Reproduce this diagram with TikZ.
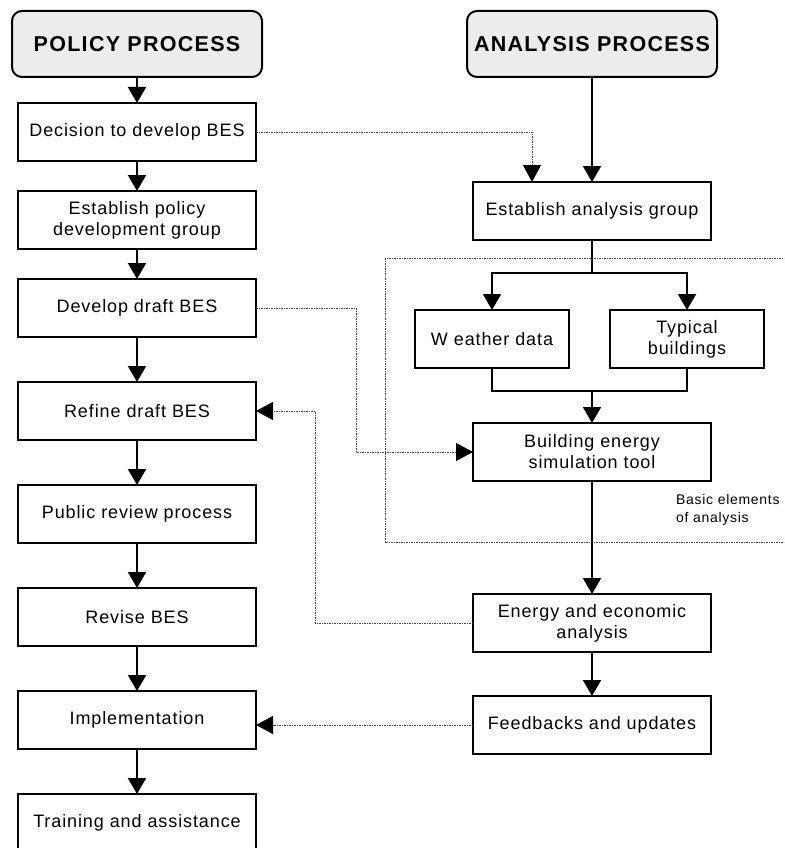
\documentclass[tikz,border=0pt]{standalone}
\usepackage{fontspec}
\setmainfont{Liberation Sans}
\usetikzlibrary{positioning,arrows.meta}

\begin{document}
\begin{tikzpicture}[x=1pt,y=1pt,node distance=30pt,
    box/.style={draw,line width=2pt,minimum width=238pt,minimum height=58pt,
        inner sep=2pt,outer sep=0pt,align=center,
        font=\fontsize{18}{21}\selectfont\addfontfeatures{LetterSpace=5}},
    head/.style={draw,line width=2pt,rounded corners=10pt,fill=gray!15,
        minimum width=250pt,minimum height=66pt,outer sep=0pt,
        font=\bfseries\fontsize{21.5}{25}\selectfont\addfontfeatures{LetterSpace=6}},
    note/.style={align=left,anchor=north west,inner sep=0pt,
        font=\fontsize{14}{18}\selectfont\addfontfeatures{LetterSpace=5}},
    arr/.style={line width=2pt,-{Triangle[width=18pt,length=16pt]}},
    dotline/.style={draw=black!75,line width=0.8pt,dash pattern=on 1.5pt off 1pt},
    dotarr/.style={dotline,-{Triangle[width=18pt,length=17pt,color=black]}}]
    \useasboundingbox (0,0) rectangle (784,-848);
    \clip (0,0) rectangle (784,-848);
    \node[head] (policy) at (137,-44) {POLICY PROCESS};
    \node[box] (decision) [below=26pt of policy] {Decision to develop BES};
    \node[box] (estP) [below=of decision] {Establish policy\\development group};
    \node[box] (draft) [below=of estP] {Develop draft BES};
    \node[box] (refine) [below=45pt of draft] {Refine draft BES};
    \node[box] (review) [below=45pt of refine] {Public review process};
    \node[box] (revise) [below=45pt of review] {Revise BES};
    \node[box] (impl) [below=45pt of revise] {Implementation};
    \node[box] (training) [below=45pt of impl] {Training and assistance};
    \node[head] (analysis) at (592,-44) {ANALYSIS PROCESS};
    \node[box] (estA) [below=105pt of analysis] {Establish analysis group};
    \node[box,minimum width=154pt] (weather) [below=70pt of estA, xshift=-100pt] {W eather data};
    \node[box,minimum width=154pt] (typical) [below=70pt of estA, xshift=95pt] {Typical\\buildings};
    \node[box] (building) [below=183pt of estA] {Building energy\\simulation tool};
    \node[box] (energy) [below=113pt of building] {Energy and economic\\analysis};
    \node[box] (feedback) [below=44pt of energy] {Feedbacks and updates};
    \node[note] (basic) at (676,-494) {Basic elements\\of analysis};
    \coordinate[below=33pt of estA] (split);
    \coordinate[above=32pt of building] (merge);
    \draw[dotline] (385,-258) rectangle (800,-542);
    \foreach \a/\b in {policy/decision,decision/estP,estP/draft,draft/refine,
        refine/review,review/revise,revise/impl,impl/training,
        analysis/estA,merge/building,building/energy,energy/feedback}
        \draw[arr] (\a) -- (\b);
    \draw[line width=2pt] (estA) -- (split);
    \draw[arr] (split) -| (weather);
    \draw[arr] (split) -| (typical);
    \draw[line width=2pt] (weather) |- (merge) -| (typical);
    \draw[dotarr] (decision.east) -| ([xshift=-60pt]estA.north);
    \draw[dotarr] (draft.east) -- ++(100,0) |- (building.west);
    \draw[dotarr] (energy.west) -- ++(-158,0) |- (refine.east);
    \draw[dotarr] (feedback.west) -- (feedback.west -| impl.east);
\end{tikzpicture}
\end{document}
